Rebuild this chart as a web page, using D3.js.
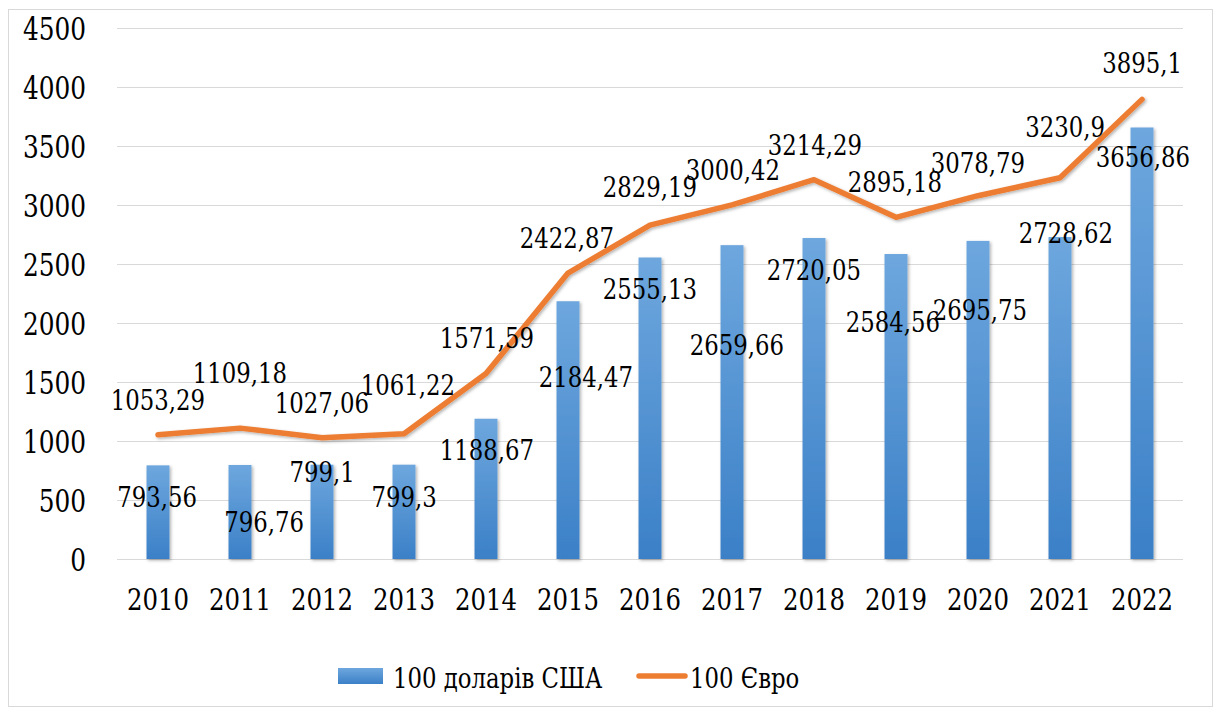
<!DOCTYPE html>
<html>
<head>
<meta charset="utf-8">
<script src="https://cdn.jsdelivr.net/npm/d3@7/dist/d3.min.js"></script>
<style>
  html, body { margin: 0; padding: 0; background: #fff; }
  svg { display: block; }
  .serif { font-family: 'DejaVu Serif', serif; fill: #000; }
</style>
</head>
<body>
<svg id="chart" width="1222" height="713"></svg>
<script>
// ---- data ----
const years = ["2010","2011","2012","2013","2014","2015","2016","2017","2018","2019","2020","2021","2022"];
const usd = [793.56, 796.76, 799.1, 799.3, 1188.67, 2184.47, 2555.13, 2659.66, 2720.05, 2584.56, 2695.75, 2728.62, 3656.86];
const eur = [1053.29, 1109.18, 1027.06, 1061.22, 1571.59, 2422.87, 2829.19, 3000.42, 3214.29, 2895.18, 3078.79, 3230.9, 3895.1];
const yTicks = [0, 500, 1000, 1500, 2000, 2500, 3000, 3500, 4000, 4500];
const seriesNames = ["100 доларів США", "100 Євро"];

// ---- label placement (pixel offsets relative to each mark) ----
const eurLabelDx = [0, 0, 0, 4, 1, -1, 0, 1, 1, -1, 0, 5, 0];
const eurLabelDy = [-25, -45, -25, -39, -26, -25, -28, -25, -25, -25, -23, -41, -26];
const usdLabelDx = [-1, 24, 0, 0, 1, 18, 0, 5, 0, -3, 2, 6, 1];
const usdLabelDy = [42, 67, 17, 42, 41, 86, 42, 110, 42, 78, 79, 6, 40];

const SX = 0.8; // horizontal condense to approximate Times proportions
const fmt = v => String(v).replace(".", ",");

const svg = d3.select("#chart");
const margin = { left: 117, right: 1183, top: 28, bottom: 559 };

const x = d3.scaleBand().domain(years).range([margin.left, margin.right]).paddingInner(0).paddingOuter(0);
const y = d3.scaleLinear().domain([0, 4500]).range([margin.bottom, margin.top]);
const barW = x.bandwidth() * 0.28;
const cx = d => x(d) + x.bandwidth() / 2;

// defs
const defs = svg.append("defs");
const grad = defs.append("linearGradient").attr("id", "barGrad").attr("x1", 0).attr("y1", 0).attr("x2", 0).attr("y2", 1);
grad.append("stop").attr("offset", "0%").attr("stop-color", "#6ea7de");
grad.append("stop").attr("offset", "100%").attr("stop-color", "#3b80c7");
const shadow = defs.append("filter").attr("id", "shadow").attr("x", "-20%").attr("y", "-20%").attr("width", "140%").attr("height", "140%");
shadow.append("feDropShadow").attr("dx", 1.5).attr("dy", 1.5).attr("stdDeviation", 1.5).attr("flood-color", "#000").attr("flood-opacity", 0.3);

// chart border
svg.append("rect").attr("x", 8.5).attr("y", 9.5).attr("width", 1204).attr("height", 697)
  .attr("fill", "#fff").attr("stroke", "#d9d9d9").attr("stroke-width", 1);

// gridlines
svg.append("g").selectAll("line").data(yTicks).join("line")
  .attr("x1", margin.left).attr("x2", margin.right)
  .attr("y1", d => Math.round(y(d)) + 0.5).attr("y2", d => Math.round(y(d)) + 0.5)
  .attr("stroke", "#d9d9d9").attr("stroke-width", 1);

// y axis labels
const yAxis = d3.axisLeft(y).tickValues(yTicks).tickSize(0).tickPadding(0).tickFormat(d => String(d));
const gy = svg.append("g").attr("transform", "translate(86,0)").call(yAxis);
gy.select(".domain").remove();
gy.attr("font-family", null).attr("font-size", null);
gy.selectAll("text").attr("class", "serif").style("font-size", "31px")
  .attr("x", 0).attr("dy", "0.36em").attr("transform", `scale(${SX},1)`);

// x axis labels
const xAxis = d3.axisBottom(x).tickSize(0).tickPadding(0);
const gx = svg.append("g").attr("transform", `translate(0,${margin.bottom})`).call(xAxis);
gx.select(".domain").remove();
gx.attr("font-family", null).attr("font-size", null);
gx.selectAll("text").attr("class", "serif").style("font-size", "30.5px")
  .attr("dy", 0).attr("y", 51).attr("transform", `scale(${SX},1)`);

// bars
svg.append("g").attr("filter", "url(#shadow)").selectAll("rect").data(years).join("rect")
  .attr("x", (d) => cx(d) - barW / 2)
  .attr("y", (d, i) => y(usd[i]))
  .attr("width", barW)
  .attr("height", (d, i) => y(0) - y(usd[i]))
  .attr("fill", "url(#barGrad)");

// line
const line = d3.line().x((d, i) => cx(years[i])).y(d => y(d));
svg.append("path").datum(eur).attr("d", line)
  .attr("fill", "none").attr("stroke", "#ed7d31").attr("stroke-width", 5.5)
  .attr("stroke-linejoin", "round").attr("stroke-linecap", "round")
  .attr("filter", "url(#shadow)");

// data labels
svg.append("g").selectAll("text").data(years).join("text")
  .attr("class", "serif")
  .attr("transform", (d, i) => `translate(${cx(d) + usdLabelDx[i]},${y(usd[i]) + usdLabelDy[i]}) scale(${SX},1)`)
  .attr("text-anchor", "middle")
  .style("font-size", "28.5px")
  .text((d, i) => fmt(usd[i]));
svg.append("g").selectAll("text").data(years).join("text")
  .attr("class", "serif")
  .attr("transform", (d, i) => `translate(${cx(d) + eurLabelDx[i]},${y(eur[i]) + eurLabelDy[i]}) scale(${SX},1)`)
  .attr("text-anchor", "middle")
  .style("font-size", "28.5px")
  .text((d, i) => fmt(eur[i]));

// legend
const lg = svg.append("g");
lg.append("rect").attr("x", 338).attr("y", 668).attr("width", 45).attr("height", 16).attr("fill", "url(#barGrad)");
lg.append("text").attr("class", "serif").attr("transform", `translate(393,688) scale(${SX},1)`)
  .style("font-size", "28.5px").text(seriesNames[0]);
lg.append("line").attr("x1", 639).attr("x2", 685).attr("y1", 676).attr("y2", 676)
  .attr("stroke", "#ed7d31").attr("stroke-width", 5.5).attr("stroke-linecap", "round");
lg.append("text").attr("class", "serif").attr("transform", `translate(690,688) scale(${SX},1)`)
  .style("font-size", "28.5px").text(seriesNames[1]);
</script>
</body>
</html>
